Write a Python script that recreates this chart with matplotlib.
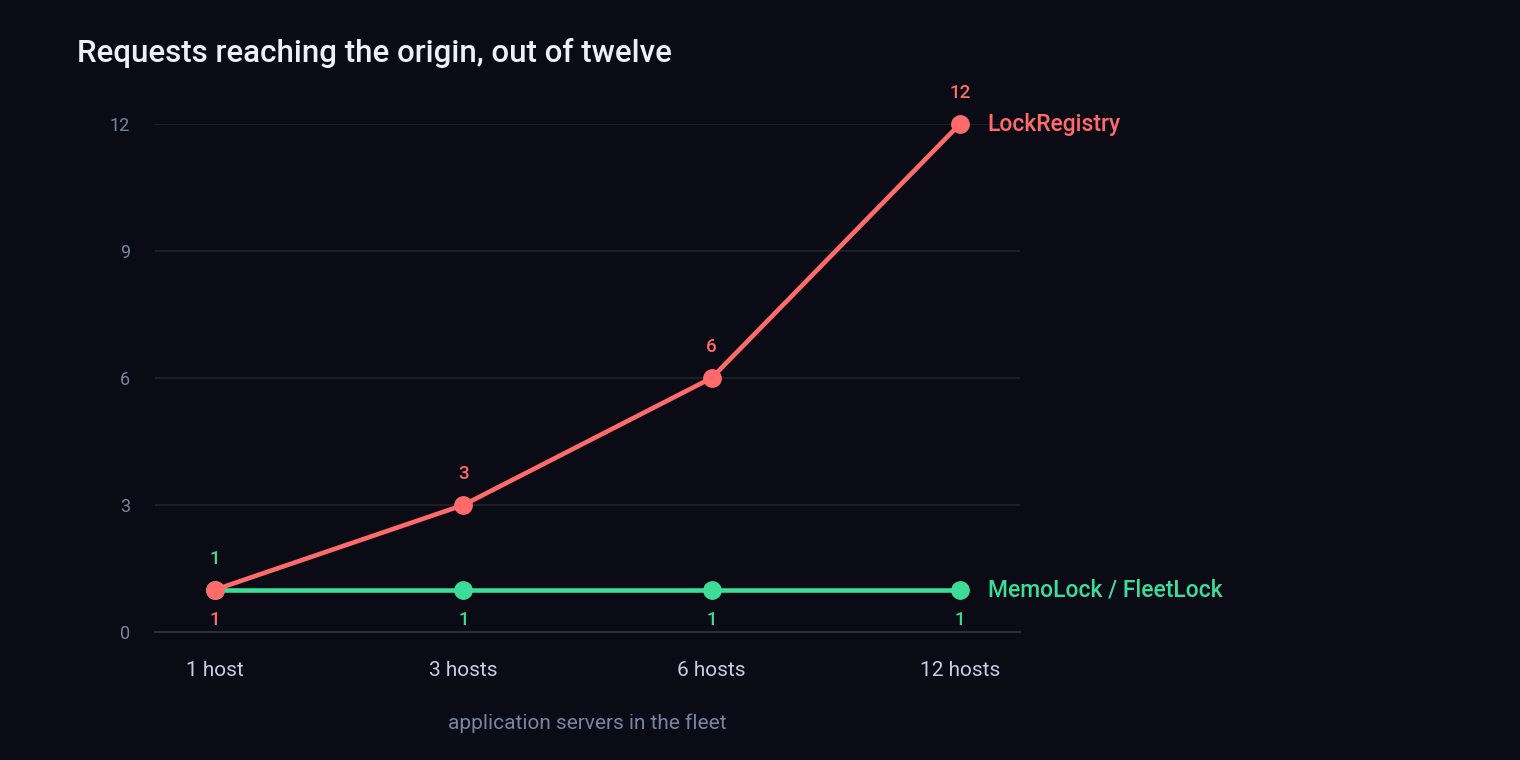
import matplotlib
matplotlib.use("Agg")
import matplotlib.pyplot as plt

# data
hosts = ["1 host", "3 hosts", "6 hosts", "12 hosts"]
lock_registry = [1, 3, 6, 12]
memo_fleet = [1, 1, 1, 1]
y_ticks = [0, 3, 6, 9, 12]

BG = "#0a0b14"
RED = "#ff6b6b"
GREEN = "#3ddc97"
GRID = "#22232f"
MUTED = "#7c82a3"
LIGHT = "#c9cde0"

plt.rcParams["font.family"] = ["Roboto", "DejaVu Sans"]

fig = plt.figure(figsize=(15.2, 7.6), dpi=100, facecolor=BG)
ax = fig.add_axes([0.102, 0.1684, 0.569, 0.6684], facecolor=BG)

x = list(range(len(hosts)))

ax.plot(x, memo_fleet, color=GREEN, linewidth=3.3, marker="o", markersize=12.5,
        solid_capstyle="round", zorder=3, clip_on=False)
ax.plot(x, lock_registry, color=RED, linewidth=3.3, marker="o", markersize=12.5,
        solid_capstyle="round", zorder=4, clip_on=False)

# value labels
for i, v in enumerate(lock_registry):
    dy = -22 if i == 0 else 22
    ax.annotate(str(v), (i, v), xytext=(0, dy), textcoords="offset points",
                ha="center", va="center", color=RED, fontsize=13.5,
                fontweight="medium")
for i, v in enumerate(memo_fleet):
    dy = 22 if i == 0 else -22
    ax.annotate(str(v), (i, v), xytext=(0, dy), textcoords="offset points",
                ha="center", va="center", color=GREEN, fontsize=13.5,
                fontweight="medium")

# series names at the right end
ax.annotate("LockRegistry", (x[-1], lock_registry[-1]), xytext=(20, 0),
            textcoords="offset points", ha="left", va="center", color=RED,
            fontsize=16.5, fontweight="medium", annotation_clip=False)
ax.annotate("MemoLock / FleetLock", (x[-1], memo_fleet[-1]), xytext=(20, 0),
            textcoords="offset points", ha="left", va="center", color=GREEN,
            fontsize=16.5, fontweight="medium", annotation_clip=False)

ax.set_xlim(-0.242, 3.242)
ax.set_ylim(0, 12)
ax.set_xticks(x)
ax.set_xticklabels(hosts)
ax.set_yticks(y_ticks)
ax.grid(axis="y", color=GRID, linewidth=1.2)
ax.set_axisbelow(True)

for side in ["top", "right", "left"]:
    ax.spines[side].set_visible(False)
ax.spines["bottom"].set_color("#2c2d3c")
ax.spines["bottom"].set_linewidth(1.5)

ax.tick_params(axis="y", length=0, pad=18, labelcolor=MUTED, labelsize=13)
ax.tick_params(axis="x", length=0, pad=21, labelcolor=LIGHT, labelsize=15)

ax.set_xlabel("application servers in the fleet", color=MUTED, fontsize=15,
              labelpad=24)

fig.text(0.0507, 0.93, "Requests reaching the origin, out of twelve",
         color="#eef0f8", fontsize=22.5, fontweight="medium", ha="left",
         va="center")

fig.savefig("out.png", dpi=100, facecolor=BG)
